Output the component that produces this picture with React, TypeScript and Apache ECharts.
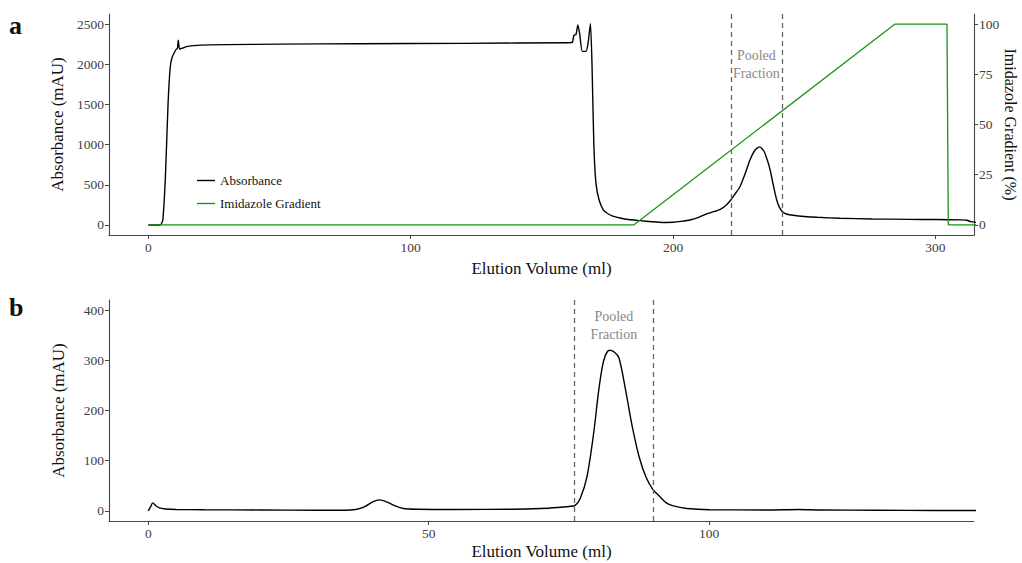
import React, { useEffect, useRef } from "react";
import * as echarts from "echarts";

// Panel a: affinity (Ni-NTA) run, absorbance and imidazole gradient vs elution volume
const absorbanceA: [number, number][] = [
  [0, 0], [4.5, 0], [5.5, 60], [6.5, 600], [7.5, 1500], [8.3, 1950], [9, 2080],
  [10.5, 2180], [11.1, 2200], [11.4, 2300], [11.9, 2190], [13, 2200], [15, 2222],
  [20, 2238], [30, 2244], [50, 2250], [80, 2255], [120, 2260], [160, 2268],
  [161.6, 2272], [162.2, 2360], [163, 2370], [163.7, 2488], [164.4, 2380],
  [165.4, 2160], [166.8, 2160], [167.6, 2260], [168.5, 2505], [169.1, 2000],
  [169.8, 1000], [170.6, 520], [171.8, 311], [173.4, 187], [174.7, 149],
  [177, 110], [179.8, 87], [183, 68], [187.4, 54], [192, 40], [196, 31],
  [200, 33], [203, 44], [206.5, 62], [210, 98], [212.8, 137], [215.5, 165],
  [218, 195], [220, 240], [221.7, 298], [223.5, 380], [225.5, 476], [227.5, 640],
  [229.3, 808], [231.2, 930], [233, 972], [234.6, 920], [236, 800], [237, 684],
  [238.3, 480], [239.5, 311], [240.6, 215], [241.9, 158], [243.5, 133],
  [245.7, 121], [250, 106], [255, 95], [263.6, 83], [276, 75], [290, 70],
  [300, 67], [310, 63], [312, 58], [313.5, 42], [316, 30],
];
const gradientA: [number, number][] = [
  [0, 0], [185, 0], [284.6, 100], [304.4, 100], [304.9, 0], [316, 0],
];
const pooledA = [222, 241.5];

// Panel b: size-exclusion run of the pooled fraction
const absorbanceB: [number, number][] = [
  [0, 0], [0.4, 8], [0.8, 16], [1.3, 11], [2, 6], [3, 4], [5, 3], [10, 2.5],
  [20, 2], [30, 1.5], [35, 1.5], [37, 3], [38.5, 8], [40, 18], [41.2, 22],
  [42.5, 18], [44, 10], [45.5, 5], [48, 3.5], [55, 3], [65, 3.5], [70, 5],
  [73, 7], [75, 9], [76.1, 11], [77, 25], [78.2, 68], [79.4, 155], [80.3, 240],
  [81.2, 300], [82.2, 320], [83, 317], [83.9, 305], [85.1, 240], [86.3, 167],
  [87.5, 108], [88.7, 68], [90, 42], [91, 31], [92.5, 15], [94, 9], [96, 5],
  [100, 2.5], [110, 2], [116, 3], [120, 2], [130, 1.5], [140, 1], [148, 1],
];
const pooledB = [76, 90];

const ticksAX = [0, 100, 200, 300];
const ticksAY = [0, 500, 1000, 1500, 2000, 2500];
const ticksAY2 = [0, 25, 50, 75, 100];
const ticksBX = [0, 50, 100];
const ticksBY = [0, 100, 200, 300, 400];

const FONT = "'Liberation Serif', 'DejaVu Serif', serif";
const AXIS = "#474747";
const TEXT = "#404040";
const GREEN = "#199419";

function axisCommon(ticks: number[], nameSize = 17) {
  return {
    axisLine: { show: true, onZero: false, lineStyle: { color: AXIS, width: 1.1 } },
    axisTick: { show: true, length: 4, customValues: ticks, lineStyle: { color: AXIS, width: 1 } },
    axisLabel: {
      customValues: ticks,
      color: TEXT,
      fontFamily: FONT,
      fontSize: 13.5,
      margin: 5,
      formatter: (v: number) => String(v),
    },
    splitLine: { show: false },
    nameTextStyle: { color: "#111", fontFamily: FONT, fontSize: nameSize },
  };
}

function pooledMarks(range: number[], distance: number) {
  return {
    markLine: {
      silent: true,
      symbol: "none",
      label: { show: false },
      lineStyle: { color: "#666", type: [5, 4], width: 1.3 },
      data: range.map((v) => ({ xAxis: v })),
    },
    markArea: {
      silent: true,
      itemStyle: { color: "rgba(0,0,0,0)" },
      label: {
        show: true,
        position: "insideTop",
        distance,
        formatter: "Pooled\nFraction",
        color: "#888",
        fontFamily: FONT,
        fontSize: 14,
        lineHeight: 18,
        align: "center",
      },
      data: [[{ xAxis: range[0] }, { xAxis: range[1] }]],
    },
  };
}

export default function App() {
  const ref = useRef<HTMLDivElement>(null);

  useEffect(() => {
    if (!ref.current) return;
    const chart = echarts.init(ref.current, null, { renderer: "svg" });
    chart.setOption({
      animation: false,
      backgroundColor: "#fff",
      textStyle: { fontFamily: FONT },
      grid: [
        { left: 109, right: 48, top: 14, height: 221, outerBoundsMode: "none" },
        { left: 109, right: 48, top: 300, height: 221, outerBoundsMode: "none" },
      ],
      legend: {
        left: 197,
        top: 174,
        padding: 0,
        orient: "vertical",
        itemWidth: 18,
        itemHeight: 12,
        itemGap: 10,
        icon: "path://M0,5 L18,5 L18,6.4 L0,6.4 Z",
        textStyle: { fontFamily: FONT, fontSize: 13, color: "#111" },
        data: ["Absorbance", "Imidazole Gradient"],
      },
      graphic: [
        { type: "text", left: 9, top: 12, style: { text: "a", font: `bold 26px ${FONT}`, fill: "#111" } },
        { type: "text", left: 9, top: 294, style: { text: "b", font: `bold 26px ${FONT}`, fill: "#111" } },
      ],
      xAxis: [
        {
          gridIndex: 0, type: "value", min: -15, max: 314.7,
          name: "Elution Volume (ml)", nameLocation: "middle", nameGap: 24.5,
          ...axisCommon(ticksAX),
        },
        {
          gridIndex: 1, type: "value", min: -7, max: 147.2,
          name: "Elution Volume (ml)", nameLocation: "middle", nameGap: 21.5,
          ...axisCommon(ticksBX),
        },
      ],
      yAxis: [
        {
          gridIndex: 0, type: "value", min: -125, max: 2625,
          name: "Absorbance (mAU)", nameLocation: "middle", nameGap: 42,
          ...axisCommon(ticksAY),
        },
        {
          gridIndex: 0, type: "value", min: -5, max: 105, position: "right",
          name: "Imidazole Gradient (%)", nameLocation: "middle", nameGap: 28, nameRotate: -90,
          nameMoveOverlap: false,
          ...axisCommon(ticksAY2, 16),
        },
        {
          gridIndex: 1, type: "value", min: -20, max: 420,
          name: "Absorbance (mAU)", nameLocation: "middle", nameGap: 42,
          ...axisCommon(ticksBY),
        },
      ],
      series: [
        {
          name: "Absorbance", type: "line", xAxisIndex: 0, yAxisIndex: 0,
          data: absorbanceA, symbol: "none", smooth: 0.2, clip: true,
          lineStyle: { color: "#000", width: 1.4 }, itemStyle: { color: "#000" },
          ...pooledMarks(pooledA, 32),
        },
        {
          name: "Imidazole Gradient", type: "line", xAxisIndex: 0, yAxisIndex: 1,
          data: gradientA, symbol: "none", clip: true,
          lineStyle: { color: GREEN, width: 1.3 }, itemStyle: { color: GREEN },
        },
        {
          name: "Absorbance B", type: "line", xAxisIndex: 1, yAxisIndex: 2,
          data: absorbanceB, symbol: "none", smooth: 0.3, clip: true,
          lineStyle: { color: "#000", width: 1.4 }, itemStyle: { color: "#000" },
          ...pooledMarks(pooledB, 7),
        },
      ],
    });
    return () => chart.dispose();
  }, []);

  return (
    <div
      ref={ref}
      style={{ position: "fixed", left: 0, top: 0, width: 1022, height: 563, background: "#fff" }}
    />
  );
}
